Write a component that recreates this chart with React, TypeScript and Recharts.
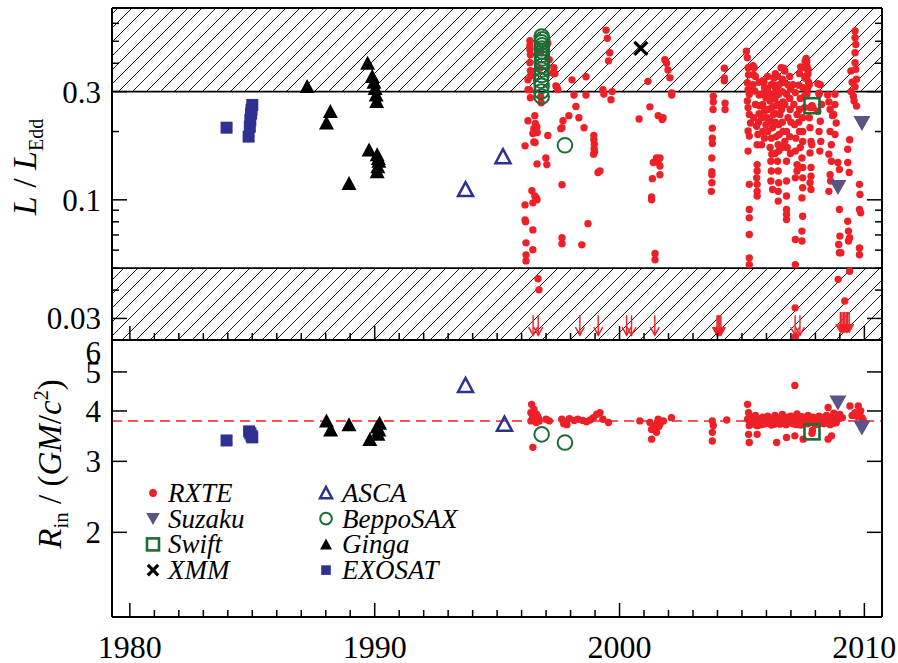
import React from 'react';
import { ScatterChart, Scatter, XAxis, YAxis, ReferenceArea, ReferenceLine } from 'recharts';

const RED = '#ee2027';
const GREEN = '#1b6d35';
const NAVY = '#2e3192';
const SLATE = '#5a5383';
const FONT = '"Liberation Serif", "Times New Roman", serif';

// ---------- axes ----------
const YEAR_DOMAIN: [number, number] = [1979.27, 2010.72];
const YEAR_TICKS = [1980, 1981, 1982, 1983, 1984, 1985, 1986, 1987, 1988, 1989, 1990, 1991, 1992, 1993, 1994, 1995, 1996, 1997, 1998, 1999, 2000, 2001, 2002, 2003, 2004, 2005, 2006, 2007, 2008, 2009, 2010];
const YEAR_LABELS = [1980, 1990, 2000, 2010];

const L_DOMAIN: [number, number] = [0.0241, 0.701];
const L_TICKS = [0.03, 0.04, 0.05, 0.06, 0.07, 0.08, 0.09, 0.1, 0.2, 0.3, 0.4, 0.5, 0.6];
const L_LABELS = [0.03, 0.1, 0.3];
const L_HATCH_HIGH = 0.3;
const L_HATCH_LOW = 0.05;

const R_DOMAIN: [number, number] = [1.233, 6];
const R_TICKS = [2, 3, 4, 5, 6];
const R_LABELS = [2, 3, 4, 5, 6];
const R_ISCO = 3.78;

// ---------- top panel: L / L_Edd ----------
const RXTE_L: [number, number][] = [
  [1996.34, 0.503], [1996.34, 0.478], [1996.34, 0.459], [1996.36, 0.436], [1996.34, 0.402], [1996.36, 0.371], [1996.38, 0.352], [1996.32, 0.306], [1996.36, 0.282],
  [1996.26, 0.338], [1996.26, 0.306],
  [1997.07, 0.49], [1997.13, 0.415], [1997.27, 0.362], [1997.40, 0.318],
  [1997.32, 0.382], [1997.36, 0.36], [1997.44, 0.315], [1997.48, 0.306],
  [1998.06, 0.338], [1998.14, 0.29], [1998.63, 0.349], [1998.63, 0.29],
  [1999.45, 0.56], [1999.5, 0.515], [1999.6, 0.445], [1999.55, 0.41],
  [1999.32, 0.306], [1999.36, 0.293], [1999.7, 0.30], [1999.65, 0.276],
  [1998.22, 0.258], [1997.93, 0.235], [1998.34, 0.230], [1998.55, 0.208],
  [1997.69, 0.223], [1997.65, 0.208], [1997.6, 0.206],
  [1996.54, 0.235], [1996.56, 0.217], [1996.5, 0.206], [1996.58, 0.201], [1996.46, 0.196], [1996.62, 0.21], [1996.64, 0.198],
  [1996.26, 0.223], [1997.07, 0.192], [1996.14, 0.173], [1996.5, 0.18], [1996.55, 0.179],
  [1996.78, 0.285], [1996.8, 0.268], [1996.75, 0.38], [1996.78, 0.45],
  [1998.95, 0.192], [1998.95, 0.184], [1998.97, 0.176], [1998.96, 0.168], [1998.98, 0.163], [1998.94, 0.159],
  [1996.99, 0.153], [1996.63, 0.144], [1997.03, 0.143], [1999.12, 0.132], [1999.2, 0.134],
  [1997.65, 0.1165], [1996.42, 0.1096], [1996.54, 0.104], [1996.63, 0.100], [1996.6, 0.102], [1996.46, 0.097], [1996.14, 0.095],
  [1996.14, 0.0816], [1996.16, 0.080], [1996.46, 0.0737], [1998.71, 0.0784], [1997.65, 0.068], [1997.65, 0.064], [1998.46, 0.0633],
  [1996.18, 0.0646], [1996.46, 0.0602], [1996.18, 0.0572], [1996.18, 0.0538], [1996.67, 0.0449], [1996.71, 0.0401],
  [2001.16, 0.333], [2001.85, 0.415], [2001.92, 0.40], [2001.98, 0.374], [2002.06, 0.345], [2002.13, 0.296], [2002.13, 0.290],
  [2004.28, 0.38], [2004.28, 0.345], [2004.28, 0.335], [2004.31, 0.267], [2004.31, 0.25],
  [2001.24, 0.257], [2000.8, 0.227], [2001.58, 0.235], [2001.78, 0.23], [2001.74, 0.226],
  [2003.83, 0.286], [2003.83, 0.27], [2003.82, 0.25], [2003.79, 0.207], [2003.79, 0.187], [2003.79, 0.177], [2003.77, 0.153], [2003.77, 0.133], [2003.77, 0.129], [2003.77, 0.119], [2003.75, 0.109],
  [2001.51, 0.153], [2001.65, 0.153], [2001.38, 0.146], [2001.58, 0.147], [2001.65, 0.141], [2001.65, 0.129], [2001.34, 0.124], [2001.31, 0.103], [2001.31, 0.100], [2001.45, 0.058], [2001.45, 0.0544],
  [2005.18, 0.452], [2005.22, 0.423], [2005.25, 0.382], [2005.27, 0.356], [2005.22, 0.328], [2005.25, 0.306], [2005.3, 0.292], [2005.22, 0.273], [2005.25, 0.255], [2005.3, 0.238], [2005.35, 0.218], [2005.25, 0.201], [2005.3, 0.191], [2005.25, 0.164], [2005.3, 0.117], [2005.3, 0.0906], [2005.3, 0.0833], [2005.3, 0.0703], [2005.3, 0.0555], [2005.3, 0.0518],
  [2005.5, 0.382], [2005.47, 0.356], [2005.45, 0.322], [2005.52, 0.302], [2005.55, 0.263], [2005.48, 0.23], [2005.6, 0.211], [2005.65, 0.194], [2005.62, 0.175], [2005.62, 0.143], [2005.62, 0.134], [2005.6, 0.125], [2005.62, 0.117], [2005.62, 0.109], [2005.62, 0.104],
  [2005.85, 0.334], [2005.92, 0.312], [2005.8, 0.292], [2005.98, 0.282], [2005.85, 0.263], [2005.92, 0.246], [2005.8, 0.23], [2005.98, 0.2145], [2005.85, 0.2], [2005.92, 0.187], [2005.8, 0.175],
  [2006.3, 0.344], [2006.2, 0.322], [2006.25, 0.292], [2006.15, 0.273], [2006.22, 0.255], [2006.28, 0.238], [2006.18, 0.222], [2006.25, 0.208], [2006.2, 0.187], [2006.15, 0.170], [2006.22, 0.159], [2006.18, 0.148], [2006.2, 0.134], [2006.18, 0.121], [2006.25, 0.111],
  [2006.6, 0.382], [2006.45, 0.35], [2006.52, 0.322], [2006.5, 0.292], [2006.48, 0.263], [2006.55, 0.238], [2006.5, 0.2145], [2006.52, 0.194], [2006.48, 0.175], [2006.5, 0.164], [2006.45, 0.148], [2006.48, 0.134], [2006.5, 0.119], [2006.48, 0.109], [2006.48, 0.0987],
  [2006.75, 0.37], [2006.88, 0.322], [2006.82, 0.292], [2006.75, 0.263], [2006.88, 0.23], [2006.82, 0.2], [2006.75, 0.181], [2006.85, 0.17], [2006.82, 0.148], [2006.82, 0.121], [2006.82, 0.104], [2006.82, 0.0906], [2006.82, 0.0861], [2006.82, 0.0818],
  [2007.08, 0.322], [2007.18, 0.297], [2007.12, 0.263], [2007.25, 0.238], [2007.15, 0.2145], [2007.2, 0.187], [2007.18, 0.164], [2007.25, 0.143], [2007.25, 0.134], [2007.18, 0.125], [2007.18, 0.0668], [2007.18, 0.0518],
  [2007.58, 0.409], [2007.55, 0.382], [2007.57, 0.344], [2007.5, 0.312], [2007.55, 0.286], [2007.55, 0.255], [2007.48, 0.23], [2007.48, 0.2], [2007.48, 0.181], [2007.45, 0.153], [2007.48, 0.139], [2007.48, 0.125], [2007.48, 0.113], [2007.45, 0.102], [2007.48, 0.0847], [2007.45, 0.0728], [2007.45, 0.0658],
  [2005.7, 0.33], [2005.7, 0.29], [2005.72, 0.26], [2005.7, 0.24], [2005.68, 0.22],
  [2006.05, 0.35], [2006.05, 0.31], [2006.08, 0.28], [2006.05, 0.25], [2006.02, 0.23], [2006.05, 0.2],
  [2006.36, 0.36], [2006.38, 0.31], [2006.35, 0.28], [2006.4, 0.26], [2006.38, 0.24], [2006.36, 0.22], [2006.4, 0.19], [2006.35, 0.16],
  [2006.65, 0.34], [2006.65, 0.3], [2006.68, 0.27], [2006.62, 0.25], [2006.65, 0.22], [2006.68, 0.2], [2006.65, 0.17],
  [2006.95, 0.35], [2006.98, 0.31], [2006.95, 0.28], [2006.97, 0.25], [2007.0, 0.22], [2006.95, 0.19], [2006.98, 0.16],
  [2007.35, 0.36], [2007.32, 0.32], [2007.38, 0.28], [2007.35, 0.25], [2007.32, 0.22], [2007.35, 0.2], [2007.38, 0.17],
  [2007.62, 0.42], [2007.65, 0.39], [2007.7, 0.36], [2007.72, 0.33], [2007.68, 0.31],
  [2008.1, 0.325], [2008.15, 0.295], [2006.7, 0.38], [2006.72, 0.33], [2007.4, 0.385], [2007.6, 0.35],
  [2005.45, 0.39], [2005.55, 0.35], [2005.9, 0.33], [2006.0, 0.30], [2006.35, 0.32],
  [2007.65, 0.409], [2007.7, 0.376], [2007.65, 0.344], [2007.75, 0.322], [2007.65, 0.292], [2007.78, 0.255], [2007.75, 0.230], [2007.78, 0.208], [2007.82, 0.181], [2007.85, 0.175], [2007.78, 0.161], [2007.82, 0.139], [2007.82, 0.127], [2007.78, 0.119], [2007.82, 0.111],
  [2007.86, 0.26], [2007.9, 0.255],
  [2008.2, 0.322], [2008.15, 0.292], [2008.25, 0.263], [2008.1, 0.246], [2008.2, 0.222], [2008.15, 0.2], [2008.22, 0.181], [2008.18, 0.164],
  [2008.8, 0.292], [2008.8, 0.263], [2008.75, 0.238], [2008.85, 0.218], [2008.6, 0.2], [2008.8, 0.194], [2008.65, 0.175], [2008.55, 0.159], [2008.65, 0.148], [2008.6, 0.129], [2008.55, 0.109], [2008.62, 0.121],
  [2008.5, 0.29], [2008.55, 0.27], [2008.6, 0.25], [2008.7, 0.235],
  [2008.92, 0.146], [2008.98, 0.136], [2008.98, 0.0906], [2009.0, 0.0692], [2008.95, 0.0635], [2008.98, 0.0584],
  [2009.62, 0.555], [2009.62, 0.518], [2009.65, 0.484], [2009.62, 0.445], [2009.62, 0.402], [2009.65, 0.376], [2009.68, 0.34], [2009.62, 0.315], [2009.55, 0.286], [2009.58, 0.273], [2009.68, 0.259],
  [2009.45, 0.37], [2009.5, 0.33], [2009.45, 0.3],
  [2009.4, 0.184], [2009.32, 0.167], [2009.32, 0.146], [2009.38, 0.132],
  [2009.32, 0.0805], [2009.35, 0.0728], [2009.4, 0.068], [2009.35, 0.0658], [2009.4, 0.0484],
  [2009.8, 0.117], [2009.82, 0.1055], [2009.8, 0.0906], [2009.85, 0.0876], [2009.8, 0.0614], [2009.8, 0.0573],
  [2008.93, 0.0446], [2009.2, 0.0358], [2009.04, 0.0584],
  [2007.17, 0.0334], [2007.18, 0.025],
];

// upper limits (arrows) in the top panel
const RXTE_LIMITS: [number, number][] = [
  [1996.47, 0.031], [1996.68, 0.031], [1998.38, 0.031], [1999.13, 0.031], [2000.29, 0.031], [2000.49, 0.031], [2001.44, 0.031],
  [2003.98, 0.031], [2004.02, 0.031], [2004.06, 0.031], [2004.1, 0.031], [2004.14, 0.031],
  [2007.17, 0.031], [2007.37, 0.031],
  [2009.02, 0.032], [2009.08, 0.032], [2009.14, 0.032], [2009.2, 0.032], [2009.26, 0.032], [2009.32, 0.032], [2009.38, 0.032],
];

const SUZAKU_L: [number, number][] = [[2008.92, 0.114], [2009.9, 0.218]];
const SWIFT_L: [number, number][] = [[2007.86, 0.26]];
const XMM_L: [number, number][] = [[2000.87, 0.465]];
const ASCA_L: [number, number][] = [[1993.71, 0.111], [1995.24, 0.155]];
const BEPPOSAX_L: [number, number][] = [
  [1996.82, 0.525], [1996.84, 0.51], [1996.82, 0.495], [1996.84, 0.48], [1996.82, 0.465], [1996.84, 0.45], [1996.82, 0.435],
  [1996.84, 0.42], [1996.82, 0.405], [1996.84, 0.39], [1996.82, 0.375], [1996.82, 0.355], [1996.8, 0.335], [1996.82, 0.318],
  [1996.8, 0.30], [1996.82, 0.285], [1997.77, 0.174],
];
const GINGA_L: [number, number][] = [
  [1987.24, 0.316], [1988.03, 0.218], [1988.19, 0.245], [1988.95, 0.118], [1989.71, 0.40], [1989.9, 0.35], [1989.97, 0.33],
  [1990.02, 0.31], [1990.06, 0.29], [1990.08, 0.271], [1989.77, 0.166], [1990.1, 0.158], [1990.17, 0.148], [1990.13, 0.14],
  [1990.1, 0.133], [1990.15, 0.152],
];
const EXOSAT_L: [number, number][] = [
  [1983.95, 0.208], [1984.85, 0.19], [1984.9, 0.21], [1984.92, 0.225], [1984.95, 0.24], [1984.97, 0.25], [1985.0, 0.262],
];

// ---------- bottom panel: R_in ----------
const RXTE_R: [number, number][] = [
  [1996.41, 4.155], [1996.5, 4.04], [1996.38, 3.96], [1996.6, 3.925], [1996.45, 3.886], [1996.65, 3.885], [1996.5, 3.815],
  [1996.72, 3.78], [1996.38, 3.78], [1996.6, 3.745], [1996.45, 3.85], [1996.7, 3.82], [1996.46, 3.25],
  [1997.0, 3.815], [1997.13, 3.78],
  [1997.64, 3.815], [1997.8, 3.76], [1997.95, 3.83], [1998.15, 3.79], [1998.3, 3.815], [1998.5, 3.79], [1998.65, 3.76], [1998.8, 3.80],
  [1998.93, 3.85], [1999.07, 3.925], [1999.2, 3.96], [1999.32, 3.815], [1999.55, 3.745], [1997.72, 3.72], [1997.85, 3.70],
  [2000.83, 3.78], [2001.24, 3.745], [2001.45, 3.68], [2001.58, 3.815], [2001.65, 3.71], [2001.79, 3.78], [2001.31, 3.60],
  [2001.51, 3.54], [2001.31, 3.405], [2001.55, 3.75], [2001.6, 3.66], [2002.12, 3.85],
  [2003.79, 3.78], [2003.83, 3.68], [2003.79, 3.54], [2003.79, 3.37], [2004.38, 3.80],
  [2005.23, 4.155], [2005.27, 3.96], [2005.23, 3.815], [2005.3, 3.68], [2005.27, 3.50], [2005.3, 3.34],
  [2005.4, 3.85], [2005.45, 3.72], [2005.5, 3.8], [2005.55, 3.9], [2005.6, 3.75], [2005.65, 3.68], [2005.7, 3.82], [2005.75, 3.78],
  [2005.8, 3.7], [2005.85, 3.86], [2005.9, 3.76], [2005.95, 3.72], [2006.0, 3.8], [2006.05, 3.88], [2006.1, 3.74], [2006.15, 3.78],
  [2006.2, 3.69], [2006.25, 3.83], [2006.3, 3.77], [2006.35, 3.9], [2006.4, 3.73], [2006.45, 3.8], [2006.5, 3.84], [2006.55, 3.71],
  [2006.6, 3.78], [2006.65, 3.92], [2006.7, 3.76], [2006.75, 3.82], [2006.8, 3.7], [2006.85, 3.86], [2006.9, 3.79], [2006.95, 3.74],
  [2007.0, 3.88], [2007.05, 3.8], [2007.1, 3.72], [2007.15, 3.85], [2007.2, 3.78], [2007.25, 3.93], [2007.3, 3.75], [2007.35, 3.82],
  [2007.4, 3.69], [2007.45, 3.87], [2007.5, 3.77], [2007.55, 3.73], [2007.6, 3.84], [2007.65, 3.79], [2007.7, 3.9], [2007.75, 3.74],
  [2007.8, 3.81], [2007.9, 3.86], [2007.95, 3.76], [2008.0, 3.7], [2008.05, 3.83], [2008.1, 3.78], [2008.15, 3.88], [2008.2, 3.74],
  [2008.25, 3.8], [2008.3, 3.85], [2008.35, 3.72], [2008.4, 3.79], [2008.45, 3.9], [2008.5, 3.76], [2008.55, 3.82], [2008.6, 3.7],
  [2008.65, 3.86], [2008.7, 3.78], [2008.75, 3.95], [2008.8, 3.83], [2008.85, 3.74], [2008.9, 3.88],
  [2005.42, 3.78], [2005.58, 3.82], [2005.72, 3.74], [2005.88, 3.8], [2006.02, 3.75], [2006.18, 3.84], [2006.32, 3.71], [2006.48, 3.77],
  [2006.62, 3.83], [2006.78, 3.75], [2006.92, 3.84], [2007.08, 3.77], [2007.22, 3.7], [2007.38, 3.8], [2007.52, 3.85], [2007.68, 3.72],
  [2007.82, 3.78], [2007.98, 3.84], [2008.12, 3.72], [2008.28, 3.77], [2008.42, 3.84], [2008.58, 3.78], [2008.72, 3.73], [2008.88, 3.8],
  [2006.42, 3.34], [2006.82, 3.44], [2007.16, 3.47], [2007.5, 3.405], [2008.66, 3.47], [2008.52, 3.405], [2005.6, 3.68], [2005.62, 3.50],
  [2007.16, 4.63], [2007.86, 3.52], [2007.88, 3.58],
  [2009.41, 4.115], [2009.75, 4.115], [2009.62, 3.96], [2008.52, 4.08],
  [2009.0, 3.92], [2009.1, 3.85], [2009.5, 3.9], [2009.7, 3.88], [2009.85, 4.0], [2009.9, 3.85], [2009.95, 3.8],
];
const SUZAKU_R: [number, number][] = [[2008.92, 4.2], [2009.9, 3.64]];
const SWIFT_R: [number, number][] = [[2007.86, 3.55]];
const ASCA_R: [number, number][] = [[1993.71, 4.63], [1995.3, 3.71]];
const BEPPOSAX_R: [number, number][] = [[1996.82, 3.50], [1997.77, 3.34]];
const GINGA_R: [number, number][] = [
  [1988.03, 3.78], [1988.2, 3.59], [1988.95, 3.70], [1989.8, 3.40], [1990.2, 3.73], [1990.17, 3.59], [1990.13, 3.50], [1990.1, 3.65],
];
const EXOSAT_R: [number, number][] = [[1983.95, 3.38], [1984.87, 3.56], [1984.92, 3.52], [1984.97, 3.47], [1985.0, 3.44]];

const LEGEND_LEFT = ['RXTE', 'Suzaku', 'Swift', 'XMM'];
const LEGEND_RIGHT = ['ASCA', 'BeppoSAX', 'Ginga', 'EXOSAT'];

const toPts = (a: [number, number][]) => a.map(([x, y]) => ({ x, y }));

// ---------- marker shapes ----------
const mk: Record<string, (cx: number, cy: number, s?: number) => React.ReactElement> = {
  RXTE: (cx, cy, s = 1) => <circle cx={cx} cy={cy} r={3.7 * s} fill={RED} />,
  Suzaku: (cx, cy, s = 1) => (
    <polygon points={`${cx - 8.5 * s},${cy - 7 * s} ${cx + 8.5 * s},${cy - 7 * s} ${cx},${cy + 8 * s}`} fill={SLATE} />
  ),
  Swift: (cx, cy, s = 1) => (
    <rect x={cx - 7.5 * s} y={cy - 7.5 * s} width={15 * s} height={15 * s} fill="none" stroke={GREEN} strokeWidth={2.6} />
  ),
  XMM: (cx, cy, s = 1) => (
    <g stroke="#000" strokeWidth={3.2}>
      <line x1={cx - 6.5 * s} y1={cy - 6.5 * s} x2={cx + 6.5 * s} y2={cy + 6.5 * s} />
      <line x1={cx - 6.5 * s} y1={cy + 6.5 * s} x2={cx + 6.5 * s} y2={cy - 6.5 * s} />
    </g>
  ),
  ASCA: (cx, cy, s = 1) => (
    <polygon points={`${cx - 7.5 * s},${cy + 6.5 * s} ${cx + 7.5 * s},${cy + 6.5 * s} ${cx},${cy - 7.5 * s}`} fill="none" stroke={NAVY} strokeWidth={2.5} strokeLinejoin="miter" />
  ),
  BeppoSAX: (cx, cy, s = 1) => <circle cx={cx} cy={cy} r={7.3 * s} fill="none" stroke={GREEN} strokeWidth={2} />,
  Ginga: (cx, cy, s = 1) => (
    <polygon points={`${cx - 7.5 * s},${cy + 6.5 * s} ${cx + 7.5 * s},${cy + 6.5 * s} ${cx},${cy - 7.5 * s}`} fill="#000" />
  ),
  EXOSAT: (cx, cy, s = 1) => <rect x={cx - 6 * s} y={cy - 6 * s} width={12 * s} height={12 * s} fill={NAVY} />,
};
const shapeOf = (name: string) => (p: any) => mk[name](p.cx, p.cy);

const arrowShape = (p: any) => {
  const { cx, cy } = p;
  return (
    <g stroke={RED} strokeWidth={1.4} fill="none">
      <line x1={cx} y1={cy} x2={cx} y2={cy + 20} />
      <polyline points={`${cx - 4.5},${cy + 12} ${cx},${cy + 20} ${cx + 4.5},${cy + 12}`} />
    </g>
  );
};

// ---------- ticks ----------
const TICK_STROKE = 1.5;
const xTick = (side: 'top' | 'bottom', showLabel: boolean) => (p: any) => {
  const v = p.payload.value;
  const major = YEAR_LABELS.includes(v);
  const len = major ? 14 : 7;
  const dir = side === 'bottom' ? -1 : 1;
  return (
    <g>
      <line x1={p.x} x2={p.x} y1={p.y} y2={p.y + dir * len} stroke="#000" strokeWidth={TICK_STROKE} />
      {showLabel && major ? (
        <text x={p.x} y={p.y + 41} textAnchor="middle" fontFamily={FONT} fontSize={32} fill="#000">
          {v}
        </text>
      ) : null}
    </g>
  );
};

const yTick = (side: 'left' | 'right', labels: number[], majorLen: number, minorLen: number, shiftTop?: number) => (p: any) => {
  const v = p.payload.value;
  const major = labels.includes(v);
  const len = major ? majorLen : minorLen;
  const dir = side === 'left' ? 1 : -1;
  const dy = shiftTop !== undefined && v === shiftTop ? 12 : 0;
  return (
    <g>
      <line x1={p.x} x2={p.x + dir * len} y1={p.y} y2={p.y} stroke="#000" strokeWidth={TICK_STROKE} />
      {side === 'left' && major ? (
        <text x={p.x - 11} y={p.y + 11 + dy} textAnchor="end" fontFamily={FONT} fontSize={31} fill="#000">
          {String(v)}
        </text>
      ) : null}
    </g>
  );
};

const AXIS_LINE = { stroke: '#000', strokeWidth: 2 };

const commonX = {
  type: 'number' as const,
  domain: YEAR_DOMAIN,
  ticks: YEAR_TICKS,
  interval: 0 as const,
  allowDataOverflow: true,
  height: 1,
  tickSize: 0,
  tickMargin: 0,
  axisLine: AXIS_LINE,
  tickLine: false,
};

const commonY = {
  type: 'number' as const,
  scale: 'log' as const,
  interval: 0 as const,
  allowDataOverflow: true,
  width: 1,
  tickSize: 0,
  tickMargin: 0,
  axisLine: AXIS_LINE,
  tickLine: false,
};

export default function App() {
  const W = 898;
  const H = 663;
  return (
    <div style={{ position: 'absolute', left: 0, top: 0, width: W, height: H, background: '#fff' }}>
      {/* Top panel: plot area x 112..882, y 8..340 */}
      <div style={{ position: 'absolute', left: 0, top: 0 }}>
        <ScatterChart width={W} height={350} margin={{ top: 7, right: 15, bottom: 9, left: 111 }}>
          <defs>
            <pattern id="hatch" patternUnits="userSpaceOnUse" width="14" height="14">
              <path d="M0,14 L14,0 M-3.5,3.5 L3.5,-3.5 M10.5,17.5 L17.5,10.5" stroke="#000" strokeWidth={0.9} />
            </pattern>
          </defs>
          <XAxis xAxisId="b" dataKey="x" {...commonX} tick={xTick('bottom', false)} />
          <XAxis xAxisId="t" orientation="top" {...commonX} tick={xTick('top', false)} />
          <YAxis yAxisId="l" dataKey="y" {...commonY} domain={L_DOMAIN} ticks={L_TICKS} tick={yTick('left', L_LABELS, 15, 7)} />
          <YAxis yAxisId="r" orientation="right" {...commonY} domain={L_DOMAIN} ticks={L_TICKS} tick={yTick('right', L_LABELS, 15, 7)} />
          <ReferenceArea xAxisId="b" yAxisId="l" y1={L_HATCH_HIGH} y2={L_DOMAIN[1]} fill="url(#hatch)" fillOpacity={1} stroke="none" ifOverflow="hidden" />
          <ReferenceArea xAxisId="b" yAxisId="l" y1={L_DOMAIN[0]} y2={L_HATCH_LOW} fill="url(#hatch)" fillOpacity={1} stroke="none" ifOverflow="hidden" />
          <ReferenceLine xAxisId="b" yAxisId="l" y={L_HATCH_HIGH} stroke="#000" strokeWidth={1.6} />
          <ReferenceLine xAxisId="b" yAxisId="l" y={L_HATCH_LOW} stroke="#000" strokeWidth={1.6} />
          <Scatter xAxisId="b" yAxisId="l" data={toPts(EXOSAT_L)} shape={shapeOf('EXOSAT')} isAnimationActive={false} />
          <Scatter xAxisId="b" yAxisId="l" data={toPts(GINGA_L)} shape={shapeOf('Ginga')} isAnimationActive={false} />
          <Scatter xAxisId="b" yAxisId="l" data={toPts(ASCA_L)} shape={shapeOf('ASCA')} isAnimationActive={false} />
          <Scatter xAxisId="b" yAxisId="l" data={toPts(RXTE_L)} shape={shapeOf('RXTE')} isAnimationActive={false} />
          <Scatter xAxisId="b" yAxisId="l" data={toPts(RXTE_LIMITS)} shape={arrowShape} isAnimationActive={false} />
          <Scatter xAxisId="b" yAxisId="l" data={toPts(BEPPOSAX_L)} shape={shapeOf('BeppoSAX')} isAnimationActive={false} />
          <Scatter xAxisId="b" yAxisId="l" data={toPts(XMM_L)} shape={shapeOf('XMM')} isAnimationActive={false} />
          <Scatter xAxisId="b" yAxisId="l" data={toPts(SWIFT_L)} shape={shapeOf('Swift')} isAnimationActive={false} />
          <Scatter xAxisId="b" yAxisId="l" data={toPts(SUZAKU_L)} shape={shapeOf('Suzaku')} isAnimationActive={false} />
        </ScatterChart>
      </div>

      {/* Bottom panel: plot area x 112..882, y 340..617 */}
      <div style={{ position: 'absolute', left: 0, top: 0 }}>
        <ScatterChart width={W} height={H} margin={{ top: 339, right: 15, bottom: 45, left: 111 }}>
          <XAxis xAxisId="b" dataKey="x" {...commonX} tick={xTick('bottom', true)} />
          <XAxis xAxisId="t" orientation="top" {...commonX} tick={xTick('top', false)} />
          <YAxis yAxisId="l" dataKey="y" {...commonY} domain={R_DOMAIN} ticks={R_TICKS} tick={yTick('left', R_LABELS, 15, 7, 6)} />
          <YAxis yAxisId="r" orientation="right" {...commonY} domain={R_DOMAIN} ticks={R_TICKS} tick={yTick('right', R_LABELS, 15, 7)} />
          <ReferenceLine xAxisId="b" yAxisId="l" y={R_ISCO} stroke={RED} strokeWidth={1.5} strokeDasharray="10 6" />
          <Scatter xAxisId="b" yAxisId="l" data={toPts(EXOSAT_R)} shape={shapeOf('EXOSAT')} isAnimationActive={false} />
          <Scatter xAxisId="b" yAxisId="l" data={toPts(GINGA_R)} shape={shapeOf('Ginga')} isAnimationActive={false} />
          <Scatter xAxisId="b" yAxisId="l" data={toPts(ASCA_R)} shape={shapeOf('ASCA')} isAnimationActive={false} />
          <Scatter xAxisId="b" yAxisId="l" data={toPts(RXTE_R)} shape={shapeOf('RXTE')} isAnimationActive={false} />
          <Scatter xAxisId="b" yAxisId="l" data={toPts(BEPPOSAX_R)} shape={shapeOf('BeppoSAX')} isAnimationActive={false} />
          <Scatter xAxisId="b" yAxisId="l" data={toPts(SWIFT_R)} shape={shapeOf('Swift')} isAnimationActive={false} />
          <Scatter xAxisId="b" yAxisId="l" data={toPts(SUZAKU_R)} shape={shapeOf('Suzaku')} isAnimationActive={false} />
        </ScatterChart>
      </div>

      {/* Axis titles and legend */}
      <svg width={W} height={H} style={{ position: 'absolute', left: 0, top: 0, pointerEvents: 'none' }}>
        <text transform="translate(36,167) rotate(-90)" textAnchor="middle" fontFamily={FONT} fontSize={34} fill="#000">
          <tspan fontStyle="italic">L</tspan>
          <tspan> / </tspan>
          <tspan fontStyle="italic">L</tspan>
          <tspan fontSize={20} dy={7}>Edd</tspan>
        </text>
        <text transform="translate(61,464) rotate(-90)" textAnchor="middle" fontFamily={FONT} fontSize={33} fill="#000">
          <tspan fontStyle="italic">R</tspan>
          <tspan fontSize={21} dy={7}>in</tspan>
          <tspan dy={-7}> / (</tspan>
          <tspan fontStyle="italic">GM</tspan>
          <tspan>/</tspan>
          <tspan fontStyle="italic">c</tspan>
          <tspan fontSize={20} dy={-13}>2</tspan>
          <tspan dy={13}>)</tspan>
        </text>
        {LEGEND_LEFT.map((name, i) => (
          <g key={name}>
            {mk[name](153, 493 + i * 25.7, name === 'RXTE' ? 1.05 : 0.8)}
            <text x={168} y={493 + i * 25.7 + 9} fontFamily={FONT} fontStyle="italic" fontSize={27} fill="#000">{name}</text>
          </g>
        ))}
        {LEGEND_RIGHT.map((name, i) => (
          <g key={name}>
            {mk[name](326, 493 + i * 25.7, 0.8)}
            <text x={342} y={493 + i * 25.7 + 9} fontFamily={FONT} fontStyle="italic" fontSize={27} fill="#000">{name}</text>
          </g>
        ))}
      </svg>
    </div>
  );
}
